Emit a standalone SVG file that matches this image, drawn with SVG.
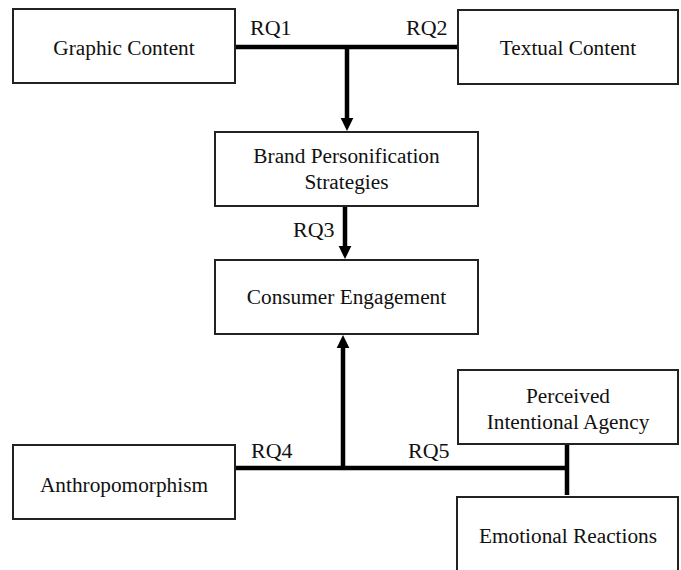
<svg xmlns="http://www.w3.org/2000/svg" width="681" height="570" viewBox="0 0 681 570">
<style>
.box{fill:#fff;stroke:#222;stroke-width:2}
.t{font-family:"Liberation Serif","Times New Roman",serif;font-size:21.3px;fill:#111;text-anchor:middle}
.lbl{font-family:"Liberation Serif","Times New Roman",serif;font-size:22px;fill:#111}
.c{stroke:#000;stroke-width:4.5;fill:none}
</style>
<defs>
<marker id="ah" markerWidth="4" markerHeight="4" refX="0.2" refY="2" orient="auto" markerUnits="strokeWidth">
<path d="M0,0.55 L3,2 L0,3.45 Z" fill="#000"/>
</marker>
</defs>
<rect width="681" height="570" fill="#fff"/>
<g id="connectors">
<line class="c" x1="235" y1="47" x2="458" y2="47"/>
<line class="c" x1="347" y1="45" x2="347" y2="118.5" marker-end="url(#ah)"/>
<line class="c" x1="345" y1="207" x2="345" y2="246.5" marker-end="url(#ah)"/>
<line class="c" x1="235" y1="468" x2="565" y2="468"/>
<line class="c" x1="343" y1="470" x2="343" y2="347.5" marker-end="url(#ah)"/>
<line class="c" x1="567" y1="444" x2="567" y2="495"/>
<text class="lbl" x="250" y="35">RQ1</text>
<text class="lbl" x="406" y="35">RQ2</text>
<text class="lbl" x="293" y="237">RQ3</text>
<text class="lbl" x="251" y="458">RQ4</text>
<text class="lbl" x="408" y="458">RQ5</text>
</g>
<g id="graphic">
<rect class="box" x="13" y="9" width="222" height="74"/>
<text class="t" x="124" y="55">Graphic Content</text>
</g>
<g id="textual">
<rect class="box" x="458" y="10" width="220" height="74"/>
<text class="t" x="568" y="55">Textual Content</text>
</g>
<g id="brand">
<rect class="box" x="215" y="132" width="263" height="74"/>
<text class="t" x="346.5" y="163">Brand Personification</text>
<text class="t" x="346.5" y="189">Strategies</text>
</g>
<g id="consumer">
<rect class="box" x="215" y="260" width="263" height="74"/>
<text class="t" x="346.5" y="304">Consumer Engagement</text>
</g>
<g id="anthro">
<rect class="box" x="13" y="445" width="222" height="74"/>
<text class="t" x="124" y="492">Anthropomorphism</text>
</g>
<g id="perceived">
<rect class="box" x="458" y="370" width="220" height="74"/>
<text class="t" x="568" y="403">Perceived</text>
<text class="t" x="568" y="429">Intentional Agency</text>
</g>
<g id="emotional">
<rect class="box" x="457" y="497" width="221" height="80"/>
<text class="t" x="568" y="543">Emotional Reactions</text>
</g>
</svg>
